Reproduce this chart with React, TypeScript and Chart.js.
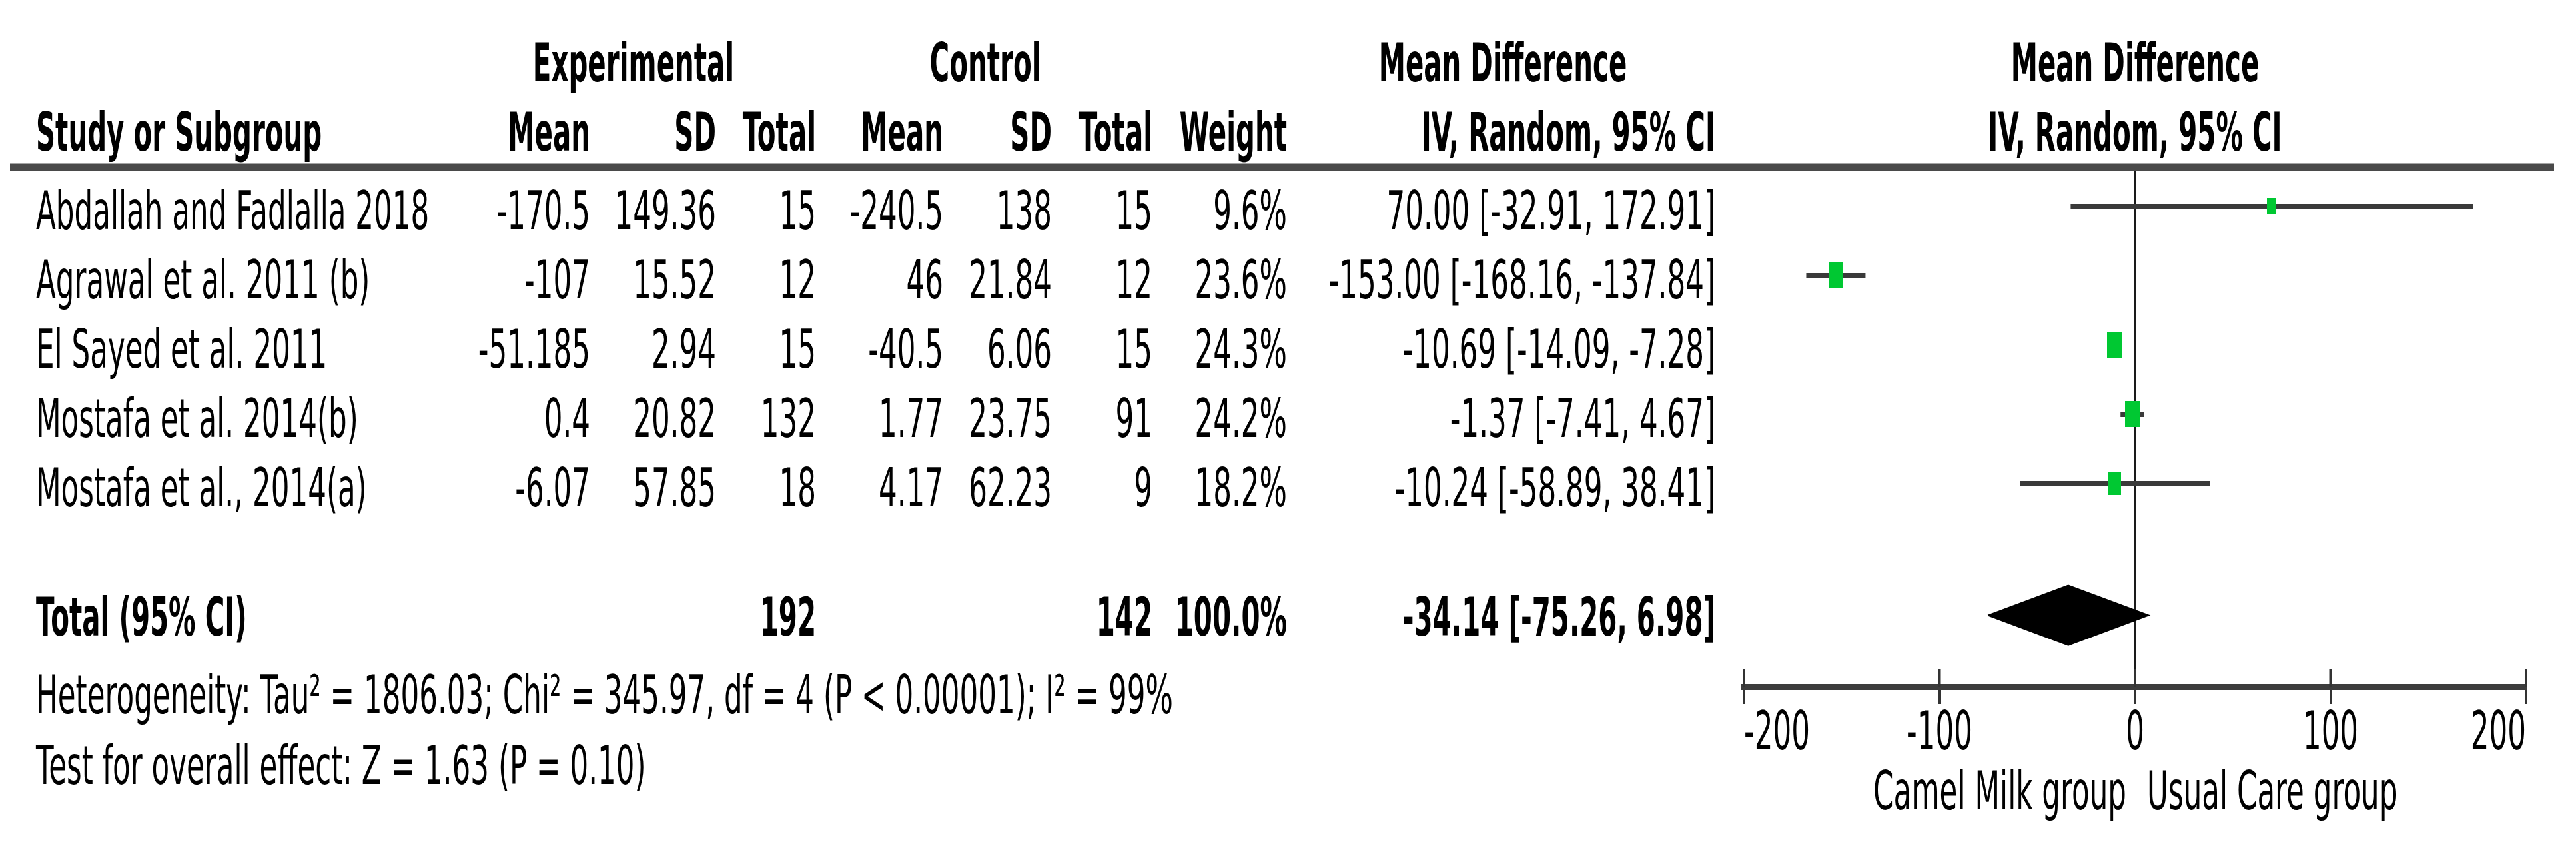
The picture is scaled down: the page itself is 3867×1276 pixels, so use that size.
import React, { useEffect, useRef } from "react";
import { Chart, registerables } from "chart.js";

Chart.register(...registerables);

// ---------- data ----------
const studies = [
  "Abdallah and Fadlalla 2018",
  "Agrawal et al. 2011 (b)",
  "El Sayed et al. 2011",
  "Mostafa et al. 2014(b)",
  "Mostafa et al., 2014(a)",
];
const expMean = ["-170.5", "-107", "-51.185", "0.4", "-6.07"];
const expSD = ["149.36", "15.52", "2.94", "20.82", "57.85"];
const expTotal = [15, 12, 15, 132, 18];
const ctrlMean = ["-240.5", "46", "-40.5", "1.77", "4.17"];
const ctrlSD = ["138", "21.84", "6.06", "23.75", "62.23"];
const ctrlTotal = [15, 12, 15, 91, 9];
const weights = [9.6, 23.6, 24.3, 24.2, 18.2];
const meanDiff = [70.0, -153.0, -10.69, -1.37, -10.24];
const ciLower = [-32.91, -168.16, -14.09, -7.41, -58.89];
const ciUpper = [172.91, -137.84, -7.28, 4.67, 38.41];

const totalExp = 192;
const totalCtrl = 142;
const totalWeight = 100.0;
const totalMD = -34.14;
const totalLower = -75.26;
const totalUpper = 6.98;

const heterogeneityText =
  "Heterogeneity: Tau\u00B2 = 1806.03; Chi\u00B2 = 345.97, df = 4 (P < 0.00001); I\u00B2 = 99%";
const overallText = "Test for overall effect: Z = 1.63 (P = 0.10)";
const xTicks = [-200, -100, 0, 100, 200];
const leftFavours = "Camel Milk group";
const rightFavours = "Usual Care group";

// ---------- layout (row positions on the y scale) ----------
const rowPos = studies.map((_, i) => i + 1);
const totalPos = 6.9;
const diamondHalf = 0.433;

const W = 3867;
const H = 1276;
const FONT = '"DejaVu Sans", Verdana, sans-serif';
const SX_REG = 0.545;
const SX_BOLD = 0.505;

function txt(
  ctx: CanvasRenderingContext2D,
  s: string,
  x: number,
  y: number,
  align: CanvasTextAlign,
  bold = false
) {
  ctx.save();
  ctx.font = `${bold ? "bold " : ""}80px ${FONT}`;
  ctx.fillStyle = "#000";
  ctx.textBaseline = "alphabetic";
  ctx.textAlign = align;
  ctx.translate(x, y);
  ctx.scale(bold ? SX_BOLD : SX_REG, 1);
  ctx.fillText(s, 0, 0);
  ctx.restore();
}

function markerCanvas(weight: number) {
  const c = document.createElement("canvas");
  const w = Math.round(4.4 * Math.sqrt(weight));
  const h = Math.round(8 * Math.sqrt(weight));
  c.width = w;
  c.height = h;
  const g = c.getContext("2d")!;
  g.fillStyle = "#00C832";
  g.fillRect(0, 0, w, h);
  return c;
}

const tablePlugin = {
  id: "forestTable",
  afterDraw(chart: any) {
    const ctx: CanvasRenderingContext2D = chart.ctx;
    const xs = chart.scales.x;
    const ys = chart.scales.y;
    const area = chart.chartArea;

    // column right edges
    const C = {
      name: 54,
      eMean: 886,
      eSD: 1075,
      eTot: 1225,
      cMean: 1416,
      cSD: 1579,
      cTot: 1730,
      wt: 1932,
      ci: 2575,
    };
    const h1 = 122;
    const h2 = 226;

    txt(ctx, "Experimental", 951, h1, "center", true);
    txt(ctx, "Control", 1479, h1, "center", true);
    txt(ctx, "Mean Difference", 2256, h1, "center", true);
    const plotMid = (area.left + area.right) / 2;
    txt(ctx, "Mean Difference", plotMid, h1, "center", true);

    txt(ctx, "Study or Subgroup", C.name, h2, "left", true);
    txt(ctx, "Mean", C.eMean, h2, "right", true);
    txt(ctx, "SD", C.eSD, h2, "right", true);
    txt(ctx, "Total", C.eTot, h2, "right", true);
    txt(ctx, "Mean", C.cMean, h2, "right", true);
    txt(ctx, "SD", C.cSD, h2, "right", true);
    txt(ctx, "Total", C.cTot, h2, "right", true);
    txt(ctx, "Weight", C.wt, h2, "right", true);
    txt(ctx, "IV, Random, 95% CI", C.ci, h2, "right", true);
    txt(ctx, "IV, Random, 95% CI", plotMid, h2, "center", true);

    // header rule
    ctx.save();
    ctx.strokeStyle = "#4a4a4a";
    ctx.lineWidth = 11;
    ctx.beginPath();
    ctx.moveTo(15, area.top);
    ctx.lineTo(3834, area.top);
    ctx.stroke();
    ctx.restore();

    studies.forEach((s, i) => {
      const y = ys.getPixelForValue(rowPos[i]) + 34;
      txt(ctx, s, C.name, y, "left");
      txt(ctx, expMean[i], C.eMean, y, "right");
      txt(ctx, expSD[i], C.eSD, y, "right");
      txt(ctx, String(expTotal[i]), C.eTot, y, "right");
      txt(ctx, ctrlMean[i], C.cMean, y, "right");
      txt(ctx, ctrlSD[i], C.cSD, y, "right");
      txt(ctx, String(ctrlTotal[i]), C.cTot, y, "right");
      txt(ctx, weights[i].toFixed(1) + "%", C.wt, y, "right");
      txt(
        ctx,
        `${meanDiff[i].toFixed(2)} [${ciLower[i].toFixed(2)}, ${ciUpper[i].toFixed(2)}]`,
        C.ci,
        y,
        "right"
      );
    });

    const ty = ys.getPixelForValue(totalPos) + 30;
    txt(ctx, "Total (95% CI)", C.name, ty, "left", true);
    txt(ctx, String(totalExp), C.eTot, ty, "right", true);
    txt(ctx, String(totalCtrl), C.cTot, ty, "right", true);
    txt(ctx, totalWeight.toFixed(1) + "%", C.wt, ty, "right", true);
    txt(
      ctx,
      `${totalMD.toFixed(2)} [${totalLower.toFixed(2)}, ${totalUpper.toFixed(2)}]`,
      C.ci,
      ty,
      "right",
      true
    );

    txt(ctx, heterogeneityText, C.name, 1071, "left");
    txt(ctx, overallText, C.name, 1177, "left");

    // tick marks above axis + tick labels
    ctx.save();
    ctx.strokeStyle = "#333";
    ctx.lineWidth = 4;
    xs.ticks.forEach((t: any, i: number) => {
      const px = xs.getPixelForValue(t.value);
      ctx.beginPath();
      ctx.moveTo(px, area.bottom - 26);
      ctx.lineTo(px, area.bottom);
      ctx.stroke();
      const n = xs.ticks.length;
      const align: CanvasTextAlign = i === 0 ? "left" : i === n - 1 ? "right" : "center";
      txt(ctx, String(t.value), px, 1125, align);
    });
    ctx.restore();

    const zero = xs.getPixelForValue(0);
    txt(ctx, leftFavours, zero - 13, 1215, "right");
    txt(ctx, rightFavours, zero + 18, 1215, "left");
  },
};

export default function App() {
  const ref = useRef<HTMLCanvasElement | null>(null);

  useEffect(() => {
    document.body.style.margin = "0";
    const canvas = ref.current!;
    const ciSets = studies.map((_, i) => ({
      type: "scatter" as const,
      data: [
        { x: ciLower[i], y: rowPos[i] },
        { x: ciUpper[i], y: rowPos[i] },
      ],
      showLine: true,
      borderColor: "#3a3a3a",
      borderWidth: 8,
      pointRadius: 0,
      fill: false,
      order: 3,
    }));

    const chart = new Chart(canvas, {
      type: "scatter",
      data: {
        datasets: [
          {
            data: meanDiff.map((m, i) => ({ x: m, y: rowPos[i] })),
            pointStyle: weights.map((w) => markerCanvas(w)) as any,
            pointRadius: 12,
            backgroundColor: "#00C832",
            borderWidth: 0,
            order: 1,
          },
          {
            data: [
              { x: totalLower, y: totalPos },
              { x: totalMD, y: totalPos - diamondHalf },
              { x: totalUpper, y: totalPos },
              { x: totalMD, y: totalPos + diamondHalf },
              { x: totalLower, y: totalPos },
            ],
            showLine: true,
            fill: "shape",
            backgroundColor: "#000",
            borderColor: "#000",
            borderWidth: 2,
            pointRadius: 0,
            tension: 0,
            order: 2,
          } as any,
          ...ciSets,
        ],
      },
      options: {
        animation: false,
        responsive: false,
        devicePixelRatio: 1,
        layout: { padding: { left: 2618, right: 75, top: 251, bottom: 0 } },
        plugins: { legend: { display: false }, tooltip: { enabled: false } },
        scales: {
          x: {
            type: "linear",
            min: -200,
            max: 200,
            afterBuildTicks: (s: any) => {
              s.ticks = xTicks.map((v) => ({ value: v }));
            },
            afterFit: (s: any) => {
              s.height = 245;
            },
            ticks: { display: false, stepSize: 100 },
            grid: {
              drawOnChartArea: true,
              drawTicks: true,
              tickLength: 26,
              tickWidth: 4,
              tickColor: "#333",
              lineWidth: 4,
              color: (c: any) =>
                c.tick && c.tick.value === 0 ? "#1a1a1a" : "rgba(0,0,0,0)",
            },
            border: { display: true, color: "#3c3c3c", width: 9 },
          },
          y: {
            type: "linear",
            reverse: true,
            min: 0.433,
            max: 7.933,
            display: false,
          },
        },
      },
      plugins: [tablePlugin],
    } as any);
    return () => chart.destroy();
  }, []);

  return (
    <div style={{ width: W, height: H, background: "#fff" }}>
      <canvas ref={ref} width={W} height={H} style={{ display: "block" }} />
    </div>
  );
}
